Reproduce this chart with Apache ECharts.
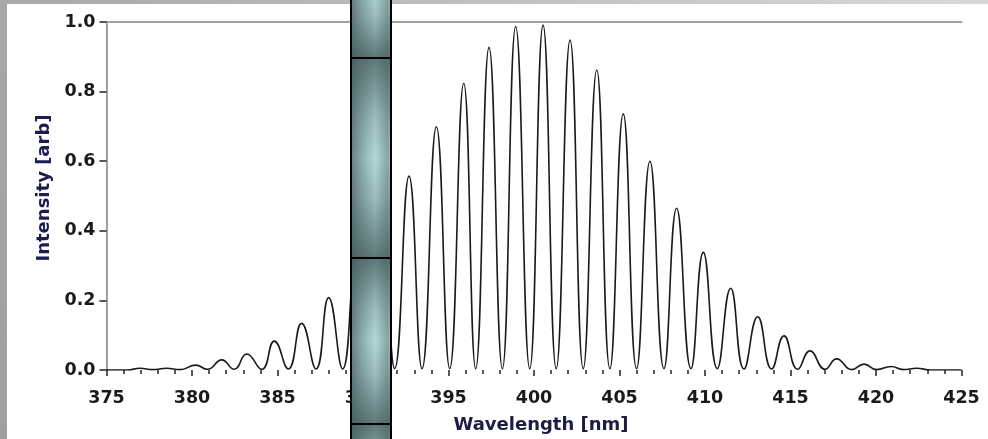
<!DOCTYPE html>
<html lang="en">
	<head>
		<meta charset="UTF-8" />
		<title>Fringes</title>
		<script src="https://cdn.jsdelivr.net/npm/echarts@6.0.0/dist/echarts.min.js"></script>
		<style>
			body { margin: 0; background: #fff; }
		</style>
	</head>
	<body>
		<div id="main" style="width: 988px; height: 439px"></div>
		<script type="text/javascript">
			// peaks and troughs
			const wavelength = [
				375, 376.2, 376.96, 377.7, 378.52, 379.3, 380.22, 380.9, 381.74, 382.46,
				383.2, 384.08, 384.81, 385.63, 386.41, 387.25, 387.99, 388.81, 389.57, 390.35,
				391.12, 391.85, 392.69, 393.45, 394.29, 395.07, 395.89, 396.59, 397.37, 398.15,
				398.93, 399.75, 400.53, 401.3, 402.11, 402.88, 403.67, 404.44, 405.22, 406.0,
				406.78, 407.6, 408.34, 409.18, 409.9, 410.72, 411.5, 412.28, 413.08, 413.9,
				414.62, 415.42, 416.14, 417.02, 417.7, 418.58, 419.3, 420.04, 420.88, 421.6,
				422.38, 423.2, 425,
			];
			const intensity = [
				0, 0, 0.005, 0.001, 0.005, 0.001, 0.014, 0.002, 0.029, 0.002,
				0.046, 0.002, 0.083, 0.003, 0.134, 0.003, 0.208, 0.003, 0.3, 0.004,
				0.42, 0.004, 0.557, 0.004, 0.699, 0.004, 0.824, 0.004, 0.927, 0.004,
				0.987, 0.004, 0.991, 0.004, 0.948, 0.004, 0.862, 0.004, 0.736, 0.004,
				0.6, 0.004, 0.465, 0.004, 0.338, 0.004, 0.235, 0.003, 0.153, 0.003,
				0.098, 0.002, 0.055, 0.002, 0.032, 0.001, 0.017, 0.001, 0.01, 0.001,
				0.005, 0, 0,
			];
			const xTicks = [375, 425, 5];
			const yTicks = [0, 1, 0.2];

			const font = "DejaVu Sans";
			const barFill = {
				type: "linear", x: 0, y: 0, x2: 1, y2: 0,
				colorStops: [
					{ offset: 0, color: "#627a7a" },
					{ offset: 0.3, color: "#8fb0b2" },
					{ offset: 0.6, color: "#b4d9db" },
					{ offset: 0.9, color: "#88a6a6" },
					{ offset: 1, color: "#b0c8c8" },
				],
			};
			const barShade = {
				type: "linear", x: 0, y: 0, x2: 0, y2: 1,
				colorStops: [
					{ offset: 0, color: "rgba(60,82,82,0.7)" },
					{ offset: 0.3, color: "rgba(60,82,82,0.2)" },
					{ offset: 0.5, color: "rgba(60,82,82,0)" },
					{ offset: 0.7, color: "rgba(60,82,82,0.2)" },
					{ offset: 1, color: "rgba(60,82,82,0.7)" },
				],
			};
			const segs = [[-80, 58], [58, 258], [258, 424], [424, 560]];
			const decor = [];
			segs.forEach(([y0, y1]) => {
				decor.push({
					type: "rect", z: 100,
					shape: { x: 351, y: y0, width: 40, height: y1 - y0 },
					style: { fill: barFill, stroke: "#000", lineWidth: 2 },
				});
				decor.push({
					type: "rect", z: 101,
					shape: { x: 352, y: y0 + 1, width: 38, height: y1 - y0 - 2 },
					style: { fill: barShade },
				});
			});
			decor.push({
				type: "rect", z: 50,
				shape: { x: 0, y: 0, width: 7, height: 439 },
				style: { fill: { type: "linear", x: 0, y: 0, x2: 0, y2: 1, colorStops: [{ offset: 0, color: "#a8a8a8" }, { offset: 1, color: "#a0a0a0" }] } },
			});
			decor.push({
				type: "rect", z: 50,
				shape: { x: 0, y: 0, width: 988, height: 4 },
				style: { fill: { type: "linear", x: 0, y: 0, x2: 1, y2: 0, colorStops: [{ offset: 0, color: "#a8a8a8" }, { offset: 1, color: "#d8d8d8" }] } },
			});

			const chart = echarts.init(document.getElementById("main"));
			chart.setOption({
				animation: false,
				backgroundColor: "#fff",
				grid: { left: 106.5, right: 26.5, top: 22, bottom: 69 },
				xAxis: [
					{
						type: "value",
						min: xTicks[0], max: xTicks[1], interval: xTicks[2],
						offset: 5,
						name: "Wavelength [nm]",
						nameLocation: "middle",
						nameGap: 41,
						nameTextStyle: { fontFamily: font, fontWeight: "bold", fontSize: 18, color: "#1c1c44", padding: [0, 0, 0, 14] },
						axisLine: { show: false },
						axisTick: { show: true, length: 6, lineStyle: { color: "#222", width: 1.5 } },
						minorTick: { show: true, splitNumber: 5, length: 4, lineStyle: { color: "#222", width: 1.5 } },
						axisLabel: { margin: 14, fontFamily: font, fontWeight: "bold", fontSize: 17.5, color: "#1a1a1a" },
						splitLine: { show: false },
					},
					{
						type: "value", position: "top",
						min: xTicks[0], max: xTicks[1],
						axisLine: { show: true, lineStyle: { color: "#a0a0a0", width: 2 } },
						axisTick: { show: false }, axisLabel: { show: false }, splitLine: { show: false },
					},
				],
				yAxis: {
					type: "value",
					min: yTicks[0], max: yTicks[1], interval: yTicks[2],
					name: "Intensity [arb]",
					nameLocation: "middle",
					nameGap: 52,
					nameTextStyle: { fontFamily: font, fontWeight: "bold", fontSize: 18, color: "#1c1c50", padding: [0, 0, 0, 16] },
					axisLine: { show: true, lineStyle: { color: "#a0a0a0", width: 2 } },
					axisTick: { show: true, length: 7, lineStyle: { color: "#222", width: 1.5 } },
					axisLabel: { margin: 11, fontFamily: font, fontWeight: "bold", fontSize: 17.5, color: "#1a1a1a", formatter: (v) => v.toFixed(1) },
					splitLine: { show: false },
				},
				series: [
					{
						type: "line",
						data: wavelength.map((w, i) => [w, intensity[i]]),
						showSymbol: false,
						smooth: 0.5,
						lineStyle: { color: "#1a1a1a", width: 1.6 },
					},
				],
				graphic: decor,
			});
		</script>
	</body>
</html>
